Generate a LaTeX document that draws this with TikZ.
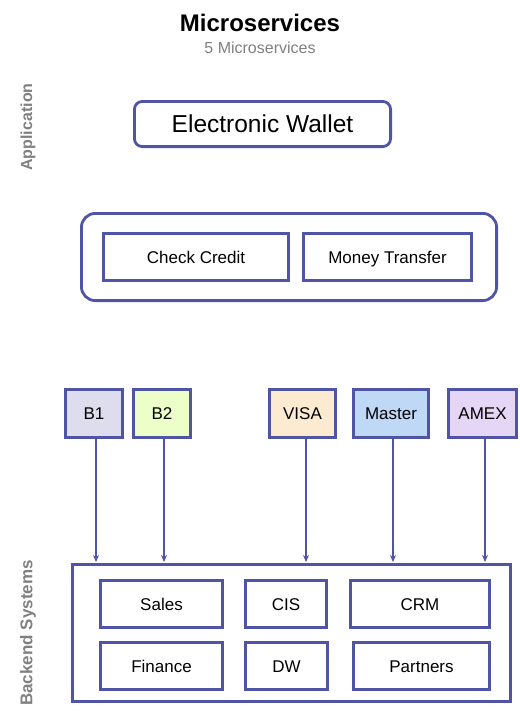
\documentclass[tikz,border=0pt]{standalone}
\usepackage{fontspec}
\setmainfont{Liberation Sans}
\usetikzlibrary{arrows.meta}
\definecolor{edge}{RGB}{80,84,164}
\definecolor{lbl}{RGB}{128,128,128}
\definecolor{fbone}{RGB}{221,221,238}
\definecolor{fbtwo}{RGB}{236,255,200}
\definecolor{fvisa}{RGB}{252,235,208}
\definecolor{fmaster}{RGB}{190,216,246}
\definecolor{famex}{RGB}{230,214,246}
\tikzset{
  box/.style={draw=edge, line width=2.8pt, fill=white, inner sep=0pt, font=\fontsize{17}{20}\selectfont, text height=12.2pt, text depth=0pt},
  rbox/.style={box, rounded corners=8pt},
  conn/.style={draw=edge, line width=1.5pt, -{Stealth[length=7pt,width=6pt]}},
  lane/.style={text=lbl, rotate=90}
}
\newcommand{\bx}[6]{% name, style, x1, y1, x2, y2
  \node[#2, minimum width={#5-#3-2.8pt}, minimum height={#6-#4-2.8pt}] (#1) at ({(#3+#5)/2},{-(#4+#6)/2})}
\begin{document}
\begin{tikzpicture}[x=1pt,y=1pt]
\useasboundingbox (0,0) rectangle (520,-724);
\node[font=\bfseries\fontsize{24}{28}\selectfont] (title) at (260,-23) {Microservices};
\node[text=lbl, font=\fontsize{16}{19}\selectfont] (sub) at (260,-48) {5 Microservices};
\node[lane, font=\bfseries\fontsize{16}{19}\selectfont] (app) at (28,-127) {Application};
\node[lane, font=\bfseries\fontsize{17}{20}\selectfont] (bes) at (28,-633) {Backend Systems};

\bx{wallet}{rbox, font=\fontsize{24.5}{28}\selectfont, text height=17.5pt}{133}{100}{392}{148}{Electronic Wallet};
\bx{outer}{rbox, rounded corners=14pt}{80}{212}{498}{302}{};
\bx{check}{box}{102}{232}{290}{282}{Check Credit};
\bx{money}{box}{302}{232}{473}{282}{Money Transfer};

\bx{b1}{box, fill=fbone}{64}{388}{124}{439}{B1};
\bx{b2}{box, fill=fbtwo}{132}{388}{192}{439}{B2};
\bx{visa}{box, fill=fvisa}{268}{388}{337}{439}{VISA};
\bx{master}{box, fill=fmaster}{352}{388}{430}{439}{Master};
\bx{amex}{box, fill=famex}{447}{388}{518}{439}{AMEX};

\bx{back}{box}{71}{563}{512}{703}{};
\bx{sales}{box}{99}{579}{224}{629}{Sales};
\bx{cis}{box}{244}{579}{328}{629}{CIS};
\bx{crm}{box}{349}{579}{491}{629}{CRM};
\bx{fin}{box}{99}{641}{224}{691}{Finance};
\bx{dw}{box}{244}{641}{329}{691}{DW};
\bx{part}{box}{352}{641}{491}{691}{Partners};

\coordinate (e1) at (96,-562);
\coordinate (e2) at (164,-562);
\coordinate (e3) at (306,-562);
\coordinate (e4) at (393,-562);
\coordinate (e5) at (485,-562);
\draw[conn] (b1.south -| e1) -- (e1);
\draw[conn] (b2.south -| e2) -- (e2);
\draw[conn] (visa.south -| e3) -- (e3);
\draw[conn] (master.south -| e4) -- (e4);
\draw[conn] (amex.south -| e5) -- (e5);
\end{tikzpicture}
\end{document}
